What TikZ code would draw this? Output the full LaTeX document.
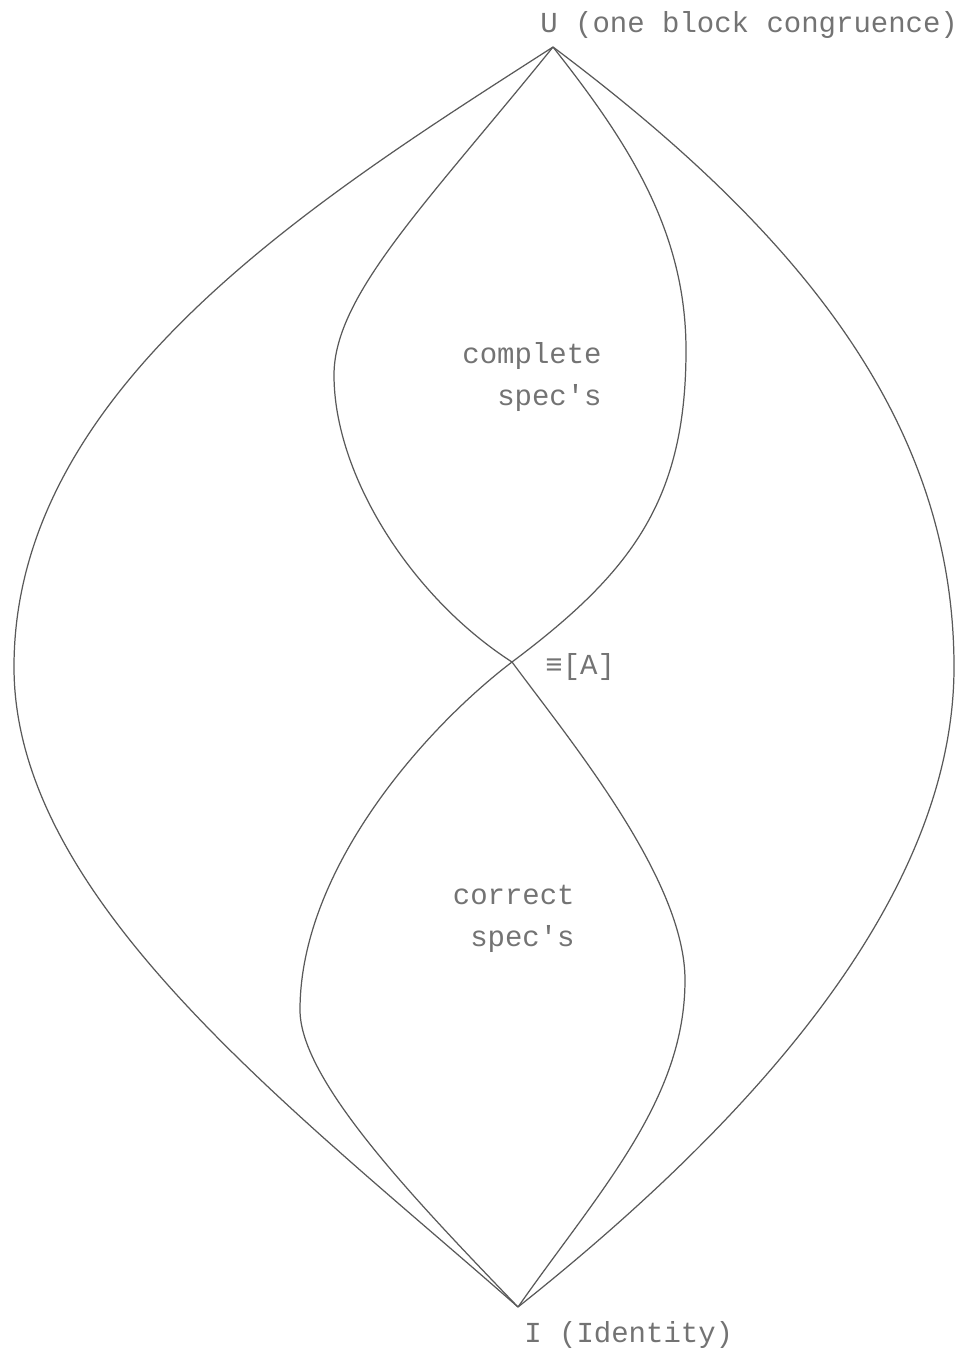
\documentclass[tikz,border=0pt]{standalone}
\usepackage{fontspec}
\newfontfamily\typewriter{Liberation Mono}

\tikzset{
    pencil/.style={draw=black!65, line width=0.7pt},
    typed/.style={font={\typewriter\fontsize{16.5}{23.8}\selectfont},
        text=black!55, inner sep=0pt},
    region/.style={typed, align=right, anchor=base east}
}

\begin{document}
\begin{tikzpicture}
    \useasboundingbox (0,0) rectangle (19.4,-27.22);

    \coordinate (top) at (11.06,-0.94);
    \coordinate (meet) at (10.24,-13.24);
    \coordinate (bottom) at (10.36,-26.14);

    \node[typed, anchor=base west] (top-label) at (10.8,-0.64)
        {U (one block congruence)};
    \node[typed, anchor=base west] (meet-label) at (10.9,-13.48) {≡[A]};
    \node[typed, anchor=base west] (bottom-label) at (10.48,-26.84)
        {I (Identity)};
    \node[region] (complete) at (12.04,-8.1) {complete\\spec's};
    \node[region] (correct) at (11.5,-18.92) {correct\\spec's};

    % outer lens
    \draw[pencil] (top) .. controls (6.36,-3.96) and (0.28,-7.74) .. (0.28,-13.34)
        .. controls (0.28,-18.0) and (5.86,-22.18) .. (bottom);
    \draw[pencil] (top) .. controls (15.86,-4.54) and (19.08,-8.34) .. (19.08,-13.34)
        .. controls (19.08,-17.94) and (15.04,-22.42) .. (bottom);

    % upper loop
    \draw[pencil] (top) .. controls (8.54,-4.06) and (6.68,-5.9) .. (6.68,-7.5)
        .. controls (6.68,-9.5) and (8.22,-11.94) .. (meet);
    \draw[pencil] (top) .. controls (12.54,-2.82) and (13.72,-4.6) .. (13.72,-7.0)
        .. controls (13.72,-10.0) and (12.64,-11.44) .. (meet);

    % lower loop
    \draw[pencil] (meet) .. controls (8.48,-14.58) and (6.0,-17.4) .. (6.0,-20.2)
        .. controls (6.0,-21.6) and (8.28,-23.98) .. (bottom);
    \draw[pencil] (meet) .. controls (11.44,-14.86) and (13.7,-17.6) .. (13.7,-19.6)
        .. controls (13.7,-22.0) and (12.0,-23.8) .. (bottom);
\end{tikzpicture}
\end{document}
